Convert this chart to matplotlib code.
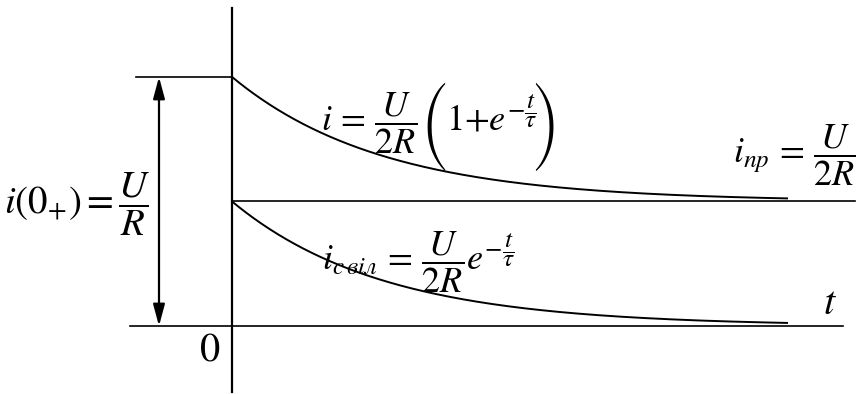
import numpy as np
import matplotlib.pyplot as plt

plt.rcParams['mathtext.fontset'] = 'stix'
plt.rcParams['font.family'] = 'STIXGeneral'

# струм у відносних одиницях U/R, час у сталих часу tau
i0 = 1.0            # i(0+) = U/R
i_pr = 0.5          # i_пр = U/(2R)
tau = 1.0
t_end = 3.7         # де обриваються криві
t_axis_end = 4.07
t_mid_end = 4.15

t = np.linspace(0, t_end, 400)
i_total = i_pr * (1 + np.exp(-t / tau))
i_free = i_pr * np.exp(-t / tau)

W, H = 861, 394
fig = plt.figure(figsize=(W / 100, H / 100), dpi=100)
ax = fig.add_axes([0, 0, 1, 1])
ax.set_xlim(-1.547, 4.193)
ax.set_ylim(-0.273, 1.309)
ax.axis('off')


def px(x, y):
    # піксельна позиція підпису -> координати графіка
    x0, x1 = ax.get_xlim()
    y0, y1 = ax.get_ylim()
    return x0 + (x1 - x0) * x / W, y1 - (y1 - y0) * y / H


# осі
ax.plot([0, 0], [-0.265, 1.277], color='black', lw=1.6)
ax.plot([-0.68, t_axis_end], [0, 0], color='black', lw=1.2)
ax.plot([-0.64, 0], [i0, i0], color='black', lw=1.2)
ax.plot([0, t_mid_end], [i_pr, i_pr], color='black', lw=1.2)

# криві струму
ax.plot(t, i_total, color='black', lw=1.4)
ax.plot(t, i_free, color='black', lw=1.4)

# стрілка i(0+)
ax.annotate('', xy=(-0.487, i0), xytext=(-0.487, 0),
            arrowprops=dict(arrowstyle='<|-|>,head_length=1.3,head_width=0.35',
                            color='black', lw=1.6, shrinkA=0, shrinkB=0))

big = 28
fs = 26
ax.text(*px(151, 214), r'$i(0_{+})=\dfrac{U}{R}$', fontsize=big,
        ha='right', va='baseline')

# i = U/2R (1 + e^(-t/tau)) — з великими дужками
ax.text(*px(321, 131), r'$i\,=\,\dfrac{U}{2R}$', fontsize=fs, ha='left', va='baseline')
ax.text(*px(434, 127), '(', fontsize=fs, family='STIXSizeThreeSym', ha='center', va='center')
ax.text(*px(446, 131), r'$1{+}e^{-\dfrac{t}{\tau}}$', fontsize=fs, ha='left', va='baseline')
ax.text(*px(546, 127), ')', fontsize=fs, family='STIXSizeThreeSym', ha='center', va='center')

ax.text(*px(856, 163), r'$i_{\mathit{пр}}\,=\,\dfrac{U}{2R}$', fontsize=fs,
        ha='right', va='baseline')
ax.text(*px(322, 270), r'$i_{\mathit{с\,віл}}\,=\,\dfrac{U}{2R}e^{-\dfrac{t}{\tau}}$', fontsize=fs,
        ha='left', va='baseline')
ax.text(*px(210, 352), '0', fontsize=29, ha='center', va='center')
ax.text(*px(830, 304), r'$t$', fontsize=29, ha='center', va='center')

fig.savefig('out.png', dpi=100)
